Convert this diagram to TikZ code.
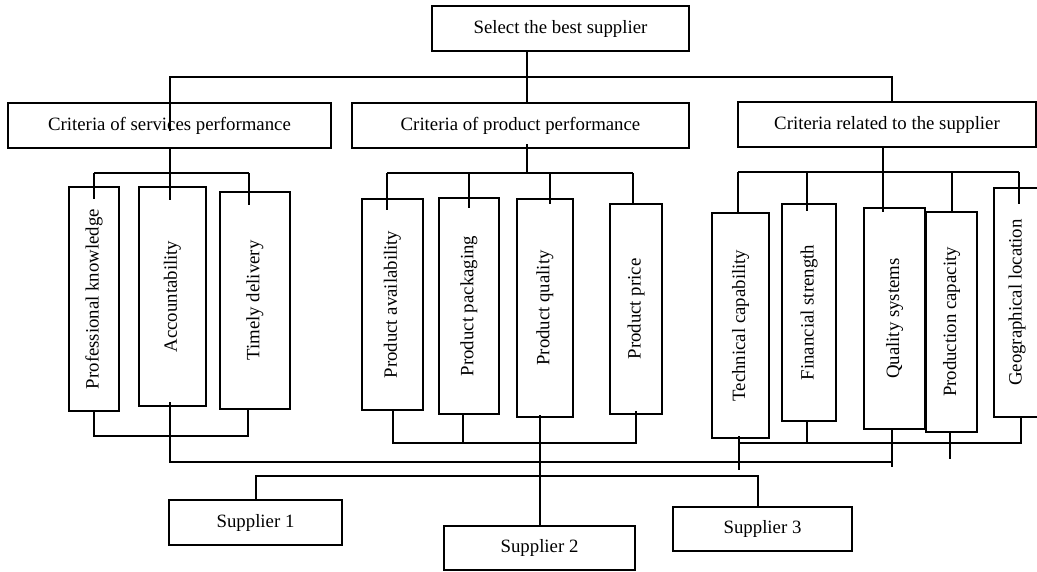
\documentclass[tikz,border=0pt]{standalone}
\usepackage{fontspec}
\setmainfont{Liberation Serif}
\tikzset{box/.style={draw, line width=2pt, inner sep=0pt, font=\fontsize{18.8}{22}\selectfont}}

\begin{document}
\begin{tikzpicture}[x=1pt, y=-1pt, line width=2pt]
\useasboundingbox (0,0) rectangle (1037,571);
\clip (0,0) rectangle (1037,571);

\coordinate (topbus) at (0,77);
\coordinate (servbus) at (0,173);
\coordinate (prodbus) at (0,173);
\coordinate (relbus) at (0,172);
\coordinate (servlow) at (0,436);
\coordinate (critlow) at (0,443);
\coordinate (evalbus) at (0,462);
\coordinate (supbus) at (0,476);

\node[box, minimum width=257, minimum height=45] (best) at (560.5,28.5) {Select the best supplier};
\node[box, minimum width=323, minimum height=45] (serv) at (169.5,125.5) {Criteria of services performance};
\node[box, minimum width=337, minimum height=45] (prod) at (520.5,125.5) {Criteria of product performance};
\node[box, minimum width=298, minimum height=45] (rel) at (887,124.5) {Criteria related to the supplier};

\node[box, minimum width=50, minimum height=224] (pk) at (94,299) {\rotatebox{90}{Professional knowledge}};
\node[box, minimum width=67, minimum height=219] (acc) at (172.5,296.5) {\rotatebox{90}{Accountability}};
\node[box, minimum width=70, minimum height=217] (td) at (255,300.5) {\rotatebox{90}{Timely delivery}};

\node[box, minimum width=61, minimum height=211] (pa) at (392.5,304.5) {\rotatebox{90}{Product availability}};
\node[box, minimum width=60, minimum height=216] (pp) at (469,306) {\rotatebox{90}{Product packaging}};
\node[box, minimum width=56, minimum height=218] (pq) at (545,308) {\rotatebox{90}{Product quality}};
\node[box, minimum width=52, minimum height=210] (ppr) at (636,309) {\rotatebox{90}{Product price}};

\node[box, minimum width=57, minimum height=225] (tc) at (740.5,325.5) {\rotatebox{90}{Technical capability}};
\node[box, minimum width=54, minimum height=217] (fs) at (809,312.5) {\rotatebox{90}{Financial strength}};
\node[box, minimum width=61, minimum height=221] (qs) at (894.5,318.5) {\rotatebox{90}{Quality systems}};
\node[box, minimum width=51, minimum height=220] (pc) at (951.5,322) {\rotatebox{90}{Production capacity}};
\node[box, minimum width=46, minimum height=229] (gl) at (1017,302.5) {\rotatebox{90}{Geographical location}};

\node[box, minimum width=173, minimum height=45] (s1) at (255.5,522.5) {Supplier 1};
\node[box, minimum width=191, minimum height=44] (s2) at (539.5,548) {Supplier 2};
\node[box, minimum width=179, minimum height=44] (s3) at (762.5,529) {Supplier 3};

\draw ([xshift=-33.5]best.south) -- ([xshift=6.5]prod.north);
\draw ([yshift=-29]serv.north) -- (serv.north |- topbus) -- ([xshift=5]rel.north |- topbus) -- ([xshift=5]rel.north);

\draw ([yshift=2]serv.south) -- ([yshift=-14]serv.south |- acc.north);
\draw (pk.north |- servbus) -- ([xshift=-6]td.north |- servbus);
\draw (pk.north |- servbus) -- ([yshift=-13]pk.north);
\draw ([xshift=-6]td.north |- servbus) -- ([xshift=-6,yshift=-14]td.north);
\draw (pk.south) |- ([xshift=-7]td.south |- servlow) -- ([xshift=-7]td.south);
\draw ([xshift=-2.5,yshift=5]acc.south) |- ([xshift=-2.5]qs.south |- evalbus);

\draw ([xshift=6.5,yshift=5]prod.south) -- ([xshift=6.5]prod.south |- prodbus);
\draw ([xshift=-5.5]pa.north |- prodbus) -- ([xshift=-3]ppr.north |- prodbus);
\draw ([xshift=-5.5]pa.north |- prodbus) -- ([xshift=-5.5,yshift=-12]pa.north);
\draw (pp.north |- prodbus) -- ([yshift=-11]pp.north);
\draw ([xshift=5]pq.north |- prodbus) -- ([xshift=5,yshift=-6]pq.north);
\draw ([xshift=-3]ppr.north |- prodbus) -- ([xshift=-3,yshift=-1]ppr.north);
\draw (pa.south) |- (ppr.south |- critlow) -- ([yshift=4]ppr.south);
\draw ([xshift=-6]pp.south) -- ([xshift=-6]pp.south |- critlow);
\draw ([yshift=3]pq.south -| s2.north) -- (s2.north);

\draw ([xshift=-4]rel.south) -- ([xshift=-11.5,yshift=-5]qs.north);
\draw ([xshift=-2.5]tc.north |- relbus) -- ([xshift=2]gl.north |- relbus);
\draw ([xshift=-2.5]tc.north |- relbus) -- ([xshift=-2.5]tc.north);
\draw ([xshift=-2]fs.north |- relbus) -- ([xshift=-2,yshift=-8]fs.north);
\draw (pc.north |- relbus) -- (pc.north);
\draw ([xshift=2]gl.north |- relbus) -- ([xshift=2,yshift=-17]gl.north);
\draw ([xshift=-1.5,yshift=3]tc.south) -- ++(0,34);
\draw ([xshift=-1.5]tc.south |- critlow) -- ([xshift=4]gl.south |- critlow) -- ([xshift=4]gl.south);
\draw ([xshift=-2]fs.south) -- ([xshift=-2]fs.south |- critlow);
\draw ([xshift=-2.5]qs.south) -- ++(0,37);
\draw ([xshift=-1.5]pc.south) -- ++(0,26);

\draw (s1.north) |- ([xshift=-4.5]s3.north |- supbus) -- ([xshift=-4.5]s3.north);
\end{tikzpicture}
\end{document}
